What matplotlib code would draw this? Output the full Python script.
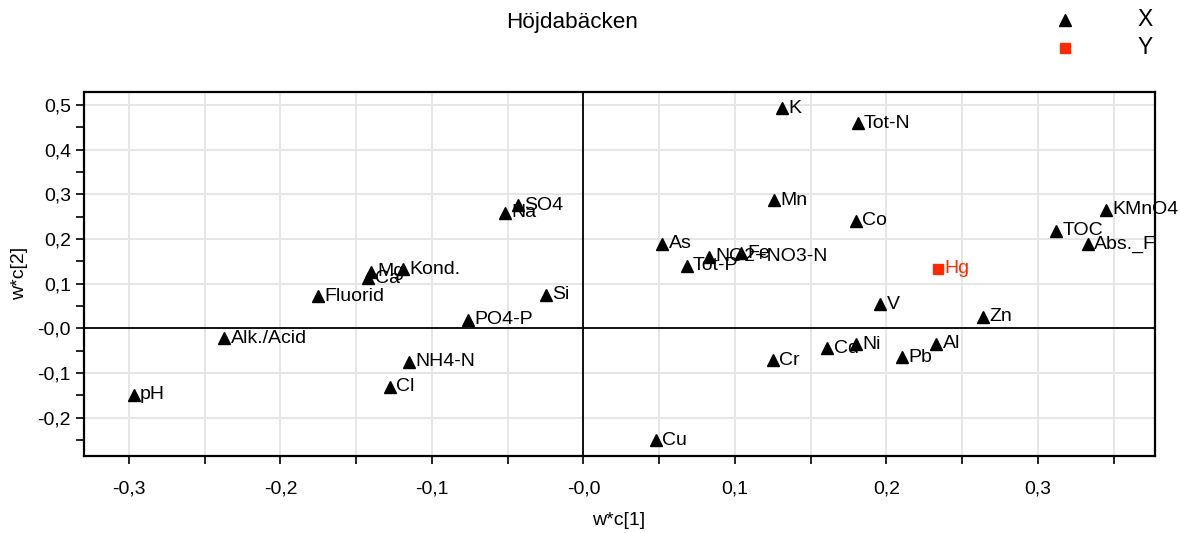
import numpy as np
import matplotlib
matplotlib.use("Agg")
import matplotlib.pyplot as plt
from matplotlib.lines import Line2D
from matplotlib.ticker import MultipleLocator, FuncFormatter

plt.rcParams['font.family'] = ['Liberation Sans', 'DejaVu Sans']

# loadings, X block (black triangles)
x_names = ['pH', 'Alk./Acid', 'Cl', 'NH4-N', 'Fluorid', 'Mg', 'Ca', 'Kond.',
           'Na', 'SO4', 'Si', 'PO4-P', 'Cu', 'As', 'Tot-P', 'NO2+NO3-N', 'Fe',
           'K', 'Tot-N', 'Mn', 'Co', 'V', 'Zn', 'Ni', 'Pb', 'Al', 'Cd', 'Cr',
           'TOC', 'KMnO4', 'Abs._F']
x_c1 = [-0.297, -0.237, -0.128, -0.115, -0.175, -0.140, -0.142, -0.119,
        -0.052, -0.043, -0.025, -0.076, 0.048, 0.052, 0.068, 0.083, 0.104,
        0.131, 0.181, 0.126, 0.180, 0.196, 0.264, 0.180, 0.210, 0.233, 0.161,
        0.125, 0.312, 0.345, 0.333]
x_c2 = [-0.149, -0.022, -0.131, -0.075, 0.072, 0.127, 0.112, 0.133,
        0.259, 0.276, 0.075, 0.019, -0.250, 0.190, 0.140, 0.160, 0.168,
        0.493, 0.459, 0.287, 0.241, 0.054, 0.026, -0.035, -0.064, -0.034, -0.044,
        -0.071, 0.219, 0.266, 0.189]

# loadings, Y block (red squares)
y_names = ['Hg']
y_c1 = [0.234]
y_c2 = [0.134]

red = '#ff2a00'
lab_size = 14

fig = plt.figure(figsize=(11.8, 5.33), dpi=100)
ax = fig.add_axes([0.0708, 0.145, 0.9077, 0.683])

ax.set_xlim(-0.33, 0.377)
ax.set_ylim(-0.285, 0.530)

ax.xaxis.set_major_locator(MultipleLocator(0.1))
ax.xaxis.set_minor_locator(MultipleLocator(0.05))
ax.yaxis.set_major_locator(MultipleLocator(0.1))
ax.yaxis.set_minor_locator(MultipleLocator(0.05))

def comma(v, pos):
    if abs(v) < 1e-9:
        return '-0,0'
    return f'{v:.1f}'.replace('.', ',')

ax.xaxis.set_major_formatter(FuncFormatter(comma))
ax.yaxis.set_major_formatter(FuncFormatter(comma))

ax.tick_params(which='both', direction='out', length=6, width=1.2, color='black')
ax.tick_params(axis='x', which='major', pad=12, labelsize=14)
ax.tick_params(axis='y', which='major', pad=3, labelsize=14)

ax.grid(axis='x', which='both', color='#e6e6e6', lw=1.4, zorder=0)
ax.grid(axis='y', which='major', color='#e6e6e6', lw=1.4, zorder=0)
ax.set_axisbelow(True)

for s in ax.spines.values():
    s.set_linewidth(1.6)

ax.axhline(0, color='black', lw=1.3, zorder=1)
ax.axvline(0, color='black', lw=1.3, zorder=1)

ax.plot(x_c1, x_c2, ls='none', marker='^', ms=8, color='black', zorder=3)
ax.plot(y_c1, y_c2, ls='none', marker='s', ms=7, color=red, zorder=3)

for n, a, b in zip(x_names, x_c1, x_c2):
    ax.annotate(n, (a, b), xytext=(4.5, 0), textcoords='offset points',
                ha='left', va='center', fontsize=lab_size, color='black',
                annotation_clip=False, zorder=4)
for n, a, b in zip(y_names, y_c1, y_c2):
    ax.annotate(n, (a, b), xytext=(4.5, 0), textcoords='offset points',
                ha='left', va='center', fontsize=lab_size, color=red,
                annotation_clip=False, zorder=4)

ax.set_xlabel('w*c[1]', fontsize=14)
ax.xaxis.set_label_coords(0.5, -0.155)
ax.set_ylabel('w*c[2]', fontsize=14)
ax.yaxis.set_label_coords(-0.052, 0.5)

fig.text(571.7 / 1180, 1 - 22 / 533, 'Höjdabäcken', ha='center', va='center', fontsize=16.2)

# legend
fig.add_artist(Line2D([1065 / 1180], [1 - 20 / 533], marker='^', ms=8, color='black',
                      ls='none', transform=fig.transFigure))
fig.add_artist(Line2D([1065 / 1180], [1 - 48 / 533], marker='s', ms=7, color=red,
                      ls='none', transform=fig.transFigure))
fig.text(1145 / 1180, 1 - 20 / 533, 'X', ha='center', va='center', fontsize=16.5)
fig.text(1145 / 1180, 1 - 48 / 533, 'Y', ha='center', va='center', fontsize=16.5)

fig.savefig('out.png', dpi=100)
